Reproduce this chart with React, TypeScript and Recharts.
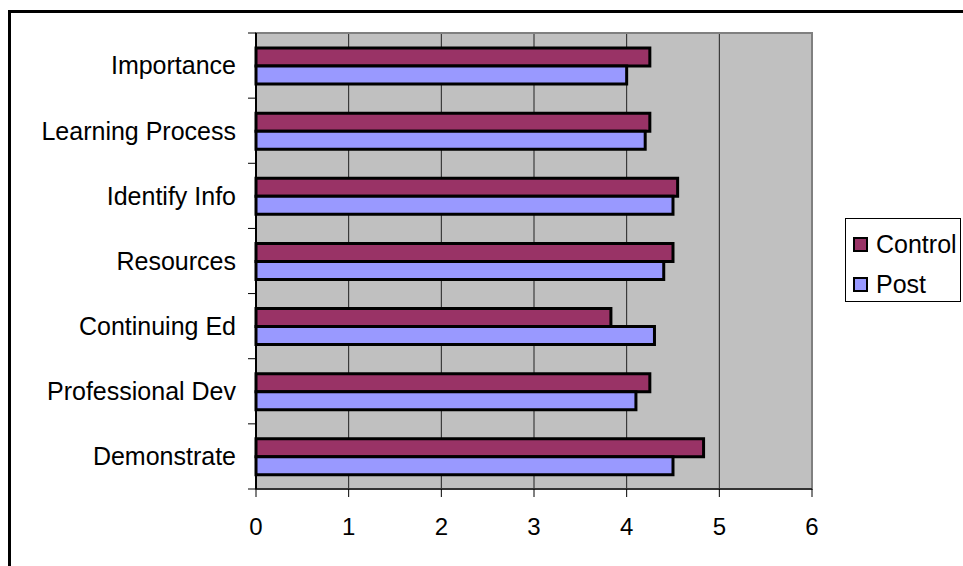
import React from "react";
import {
  BarChart,
  Bar,
  XAxis,
  YAxis,
  CartesianGrid,
  Legend,
  ReferenceArea,
} from "recharts";

const categories = [
  "Importance",
  "Learning Process",
  "Identify Info",
  "Resources",
  "Continuing Ed",
  "Professional Dev",
  "Demonstrate",
];
const controlValues = [4.25, 4.25, 4.55, 4.5, 3.83, 4.25, 4.83];
const postValues = [4.0, 4.2, 4.5, 4.4, 4.3, 4.1, 4.5];
const xTicks = [0, 1, 2, 3, 4, 5, 6];
const seriesNames = { control: "Control", post: "Post" };

const data = categories.map((name, i) => ({
  name,
  control: controlValues[i],
  post: postValues[i],
}));

const W = 963;
const H = 566;
const MARGIN = { top: 33, right: 151, bottom: 27, left: 0 };
const X_AXIS_H = 50;
const Y_AXIS_W = 256;
const TICK_SIZE = 8;
const TICK_MARGIN = 12;
const PLOT_H = H - MARGIN.top - MARGIN.bottom - X_AXIS_H;
const FONT = "'Liberation Sans', Arial, sans-serif";

const CategoryTick = (props: any) => {
  const { x, y, payload, index } = props;
  const band = PLOT_H / categories.length;
  const axisX = x + TICK_MARGIN + TICK_SIZE;
  return (
    <g>
      <line
        x1={axisX - TICK_SIZE}
        x2={axisX}
        y1={y - band / 2}
        y2={y - band / 2}
        stroke="#000"
        strokeWidth={1}
      />
      {index === categories.length - 1 && (
        <line
          x1={axisX - TICK_SIZE}
          x2={axisX}
          y1={y + band / 2}
          y2={y + band / 2}
          stroke="#000"
          strokeWidth={1}
        />
      )}
      <text
        x={x}
        y={y}
        dy="0.355em"
        textAnchor="end"
        fill="#000"
        fontSize={25}
        fontFamily={FONT}
      >
        {payload.value}
      </text>
    </g>
  );
};

const LegendContent = (props: any) => {
  const { payload } = props;
  return (
    <div
      style={{
        width: 116,
        height: 84,
        border: "1px solid #000",
        background: "#fff",
        boxSizing: "border-box",
        paddingTop: 11,
        paddingLeft: 7,
        fontFamily: FONT,
        fontSize: 25,
        color: "#000",
      }}
    >
      {(payload || []).map((entry: any, i: number) => (
        <div
          key={i}
          style={{
            display: "flex",
            alignItems: "center",
            height: 28,
            marginBottom: i === 0 ? 12 : 0,
          }}
        >
          <span
            style={{
              display: "inline-block",
              width: 15,
              height: 15,
              boxSizing: "border-box",
              border: "2px solid #000",
              background: entry.color,
              marginRight: 8,
            }}
          />
          <span style={{ lineHeight: "28px" }}>{entry.value}</span>
        </div>
      ))}
    </div>
  );
};

export default function App() {
  return (
    <div
      style={{
        position: "absolute",
        left: 0,
        top: 0,
        width: W,
        height: H,
        overflow: "hidden",
        background: "#fff",
      }}
    >
      <div
        style={{
          position: "absolute",
          left: 8,
          top: 10,
          width: 1100,
          height: 700,
          borderLeft: "3px solid #000",
          borderTop: "3px solid #000",
        }}
      />
      <div style={{ position: "absolute", left: 0, top: 0 }}>
        <BarChart
          width={W}
          height={H}
          data={data}
          layout="vertical"
          margin={MARGIN}
          barGap={0}
          barSize={18}
        >
          <CartesianGrid
            horizontal={false}
            vertical={true}
            fill="#C0C0C0"
            stroke="#222"
            strokeWidth={1}
          />
          <XAxis
            type="number"
            domain={[0, 6]}
            ticks={xTicks}
            interval={0}
            height={X_AXIS_H}
            tickSize={TICK_SIZE}
            tickMargin={21}
            axisLine={{ stroke: "#333", strokeWidth: 2 }}
            tickLine={{ stroke: "#000", strokeWidth: 1 }}
            tick={{ fill: "#000", fontSize: 24, fontFamily: FONT }}
          />
          <YAxis
            type="category"
            dataKey="name"
            width={Y_AXIS_W}
            interval={0}
            tickSize={TICK_SIZE}
            tickMargin={TICK_MARGIN}
            tickLine={false}
            axisLine={{ stroke: "#000", strokeWidth: 2 }}
            tick={<CategoryTick />}
          />
          <ReferenceArea
            x1={0}
            x2={6}
            fill="none"
            stroke="#808080"
            strokeWidth={2}
            ifOverflow="visible"
          />
          <Bar
            dataKey="control"
            name={seriesNames.control}
            fill="#993366"
            stroke="#000"
            strokeWidth={3}
            isAnimationActive={false}
          />
          <Bar
            dataKey="post"
            name={seriesNames.post}
            fill="#9999FF"
            stroke="#000"
            strokeWidth={3}
            isAnimationActive={false}
          />
          <Legend
            layout="vertical"
            align="center"
            verticalAlign="middle"
            content={<LegendContent />}
            wrapperStyle={{
              position: "absolute",
              left: 845,
              top: 218,
              width: 116,
              height: 84,
              margin: 0,
            }}
          />
        </BarChart>
      </div>
    </div>
  );
}
